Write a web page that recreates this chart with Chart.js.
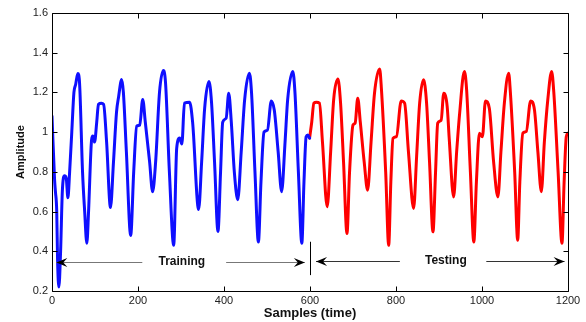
<!DOCTYPE html>
<html>
<head>
<meta charset="utf-8">
<script src="https://cdn.jsdelivr.net/npm/chart.js"></script>
<style>
  html, body { margin: 0; padding: 0; background: #fff; }
  #wrap { width: 586px; height: 322px; }
</style>
</head>
<body>
<div id="wrap"><canvas id="chart" width="586" height="322"></canvas></div>
<script>
// samples (x) and amplitude (y)
const trainX = [0, 6, 8, 11, 13, 16, 20, 24, 29, 33, 37, 41, 46, 51, 55, 60, 64, 71, 76, 81,
  85, 92, 95, 99, 104, 108, 115, 120, 127, 136, 143, 150, 155, 162, 166, 173, 183, 190, 197, 204,
  211, 217, 227, 234, 241, 250, 259, 264, 273, 283, 290, 297, 302, 308, 320, 327, 341, 348, 355, 365,
  371, 378, 386, 392, 397, 405, 411, 417, 424, 432, 440, 448, 459, 464, 472, 480, 486, 493, 501, 510,
  517, 526, 534, 542, 548, 560, 565, 573, 581, 586, 591, 595, 599];
const trainY = [1.08, 0.76, 0.70, 0.60, 0.35, 0.22, 0.40, 0.70, 0.78, 0.77, 0.67, 0.80, 1.00, 1.20, 1.24, 1.295, 1.25, 0.80, 0.60, 0.44,
  0.60, 0.96, 0.98, 0.95, 1.05, 1.14, 1.145, 1.14, 0.95, 0.62, 0.85, 1.10, 1.18, 1.265, 1.20, 0.90, 0.48, 0.80, 1.03, 1.035,
  1.165, 1.05, 0.85, 0.70, 0.85, 1.20, 1.31, 1.25, 0.80, 0.43, 0.92, 0.97, 0.94, 1.146, 1.15, 1.05, 0.61, 0.85, 1.12, 1.255,
  1.15, 0.85, 0.50, 0.80, 1.05, 1.07, 1.196, 1.05, 0.80, 0.66, 0.90, 1.163, 1.297, 1.20, 0.80, 0.447, 0.75, 1.00, 1.01, 1.157,
  1.11, 0.90, 0.70, 0.95, 1.163, 1.306, 1.20, 0.80, 0.44, 0.75, 0.977, 0.985, 0.97];

const testX = [599, 604, 609, 615, 622, 629, 640, 648, 655, 665, 671, 678, 686, 692, 700, 705, 711, 717, 726, 734,
  742, 750, 762, 766, 776, 783, 788, 793, 801, 812, 820, 829, 841, 848, 855, 864, 871, 878, 886, 892,
  897, 905, 911, 919, 924, 934, 941, 948, 959, 964, 973, 981, 987, 994, 1001, 1008, 1017, 1027, 1037, 1044,
  1052, 1062, 1066, 1076, 1083, 1088, 1095, 1103, 1113, 1122, 1130, 1138, 1145, 1153, 1162, 1167, 1177, 1186, 1191, 1196,
  1200];
const testY = [0.97, 1.05, 1.146, 1.15, 1.146, 0.95, 0.624, 0.90, 1.163, 1.267, 1.15, 0.85, 0.49, 0.80, 1.036, 1.045, 1.171, 1.05, 0.85, 0.708,
  0.95, 1.196, 1.318, 1.22, 0.80, 0.43, 0.75, 0.969, 0.977, 1.157, 1.146, 0.90, 0.616, 0.88, 1.146, 1.264, 1.15, 0.85, 0.498, 0.80,
  1.045, 1.06, 1.196, 1.13, 0.96, 0.674, 0.90, 1.095, 1.306, 1.22, 0.80, 0.447, 0.75, 0.995, 0.977, 1.157, 1.12, 0.85, 0.674, 0.90,
  1.146, 1.297, 1.20, 0.80, 0.456, 0.75, 0.995, 1.003, 1.157, 1.112, 0.90, 0.70, 0.95, 1.163, 1.306, 1.20, 0.80, 0.44, 0.75, 0.977,
  0.995];

const xTickLabels = ['0', '200', '400', '600', '800', '1000', '1200'];
const yTickLabels = ['0.2', '0.4', '0.6', '0.8', '1', '1.2', '1.4', '1.6'];

// annotation arrows in data units: [fromX, toX, y]
const trainingArrows = [[210, 10, 0.345], [405, 588, 0.345]];
const testingArrows = [[809, 614, 0.352], [1010, 1192, 0.352]];
const splitLine = [600, 0.28, 0.448];
const annotationLabels = [['Training', 302, 0.35], ['Testing', 916, 0.355]];

const toPoints = (xs, ys) => xs.map((x, i) => ({ x, y: ys[i] }));

function arrowHead(ctx, x, y, dir) {
  ctx.beginPath();
  ctx.moveTo(x, y);
  ctx.lineTo(x - dir * 11, y - 4.5);
  ctx.lineTo(x - dir * 7, y);
  ctx.lineTo(x - dir * 11, y + 4.5);
  ctx.closePath();
  ctx.fill();
}

const annotations = {
  id: 'annotations',
  afterDatasetsDraw(chart) {
    const { ctx, scales: { x, y } } = chart;
    ctx.save();
    const drawArrow = (arr, color) => {
      const x0 = x.getPixelForValue(arr[0]);
      const x1 = x.getPixelForValue(arr[1]);
      const py = Math.round(y.getPixelForValue(arr[2])) + 0.5;
      ctx.strokeStyle = color;
      ctx.lineWidth = 1;
      ctx.beginPath();
      ctx.moveTo(x0, py);
      ctx.lineTo(x1, py);
      ctx.stroke();
      ctx.fillStyle = '#000';
      arrowHead(ctx, x1, py, x1 > x0 ? 1 : -1);
    };
    trainingArrows.forEach((a) => drawArrow(a, '#777'));
    testingArrows.forEach((a) => drawArrow(a, '#333'));

    const sx = Math.round(x.getPixelForValue(splitLine[0])) + 0.5;
    ctx.strokeStyle = '#000';
    ctx.beginPath();
    ctx.moveTo(sx, y.getPixelForValue(splitLine[1]));
    ctx.lineTo(sx, y.getPixelForValue(splitLine[2]));
    ctx.stroke();

    ctx.fillStyle = '#111';
    ctx.font = 'bold 12px "Liberation Sans", Arial, sans-serif';
    ctx.textAlign = 'center';
    ctx.textBaseline = 'middle';
    annotationLabels.forEach(([text, vx, vy]) => {
      ctx.fillText(text, x.getPixelForValue(vx), y.getPixelForValue(vy));
    });
    ctx.restore();
  },
};

// MATLAB style box with inward ticks on all four sides
const frameTicks = {
  id: 'frameTicks',
  afterDraw(chart) {
    const { ctx, chartArea: a, scales: { x, y } } = chart;
    const L = Math.round(a.left) + 0.5;
    const R = Math.round(a.right) + 0.5;
    const T = Math.round(a.top) + 0.5;
    const B = Math.round(a.bottom) + 0.5;
    ctx.save();
    ctx.strokeStyle = '#000';
    ctx.lineWidth = 1;
    ctx.beginPath();
    ctx.rect(L, T, R - L, B - T);
    x.ticks.forEach((t) => {
      const px = Math.round(x.getPixelForValue(t.value)) + 0.5;
      ctx.moveTo(px, B); ctx.lineTo(px, B - 5);
      ctx.moveTo(px, T); ctx.lineTo(px, T + 5);
    });
    y.ticks.forEach((t) => {
      const py = Math.round(y.getPixelForValue(t.value)) + 0.5;
      ctx.moveTo(L, py); ctx.lineTo(L + 5, py);
      ctx.moveTo(R, py); ctx.lineTo(R - 5, py);
    });
    ctx.stroke();
    ctx.restore();
  },
};

const tickFont = { family: '"Liberation Sans", Arial, sans-serif', size: 11 };

const lineStyle = {
  borderWidth: 3,
  pointRadius: 0,
  cubicInterpolationMode: 'monotone',
  borderJoinStyle: 'round',
  borderCapStyle: 'round',
};

const chartConfig = {
  type: 'line',
  data: {
    datasets: [
      { ...lineStyle, data: toPoints(trainX, trainY), borderColor: '#0f0fff' },
      { ...lineStyle, data: toPoints(testX, testY), borderColor: '#ff0000' },
    ],
  },
  options: {
    responsive: false,
    animation: false,
    layout: { padding: { left: 0, top: 13, right: 18, bottom: 0 } },
    plugins: { legend: { display: false }, tooltip: { enabled: false } },
    scales: {
      x: {
        type: 'linear',
        min: 0,
        max: 1200,
        afterFit(scale) { scale.height = 31; },
        grid: { display: false, drawTicks: false },
        border: { display: false },
        ticks: {
          stepSize: 200,
          padding: 3,
          color: '#222',
          font: tickFont,
          maxRotation: 0,
          callback(value, index) { return xTickLabels[index]; },
        },
        title: {
          display: true,
          text: 'Samples (time)',
          color: '#111',
          font: { family: '"Liberation Sans", Arial, sans-serif', size: 13, weight: 'bold' },
          padding: { top: 0, bottom: 1 },
        },
      },
      y: {
        min: 0.2,
        max: 1.6,
        afterFit(scale) { scale.width = 52; },
        grid: { display: false, drawTicks: false },
        border: { display: false },
        ticks: {
          stepSize: 0.2,
          padding: 4,
          color: '#222',
          font: tickFont,
          callback(value, index) { return yTickLabels[index]; },
        },
        title: {
          display: true,
          text: 'Amplitude',
          color: '#111',
          font: { family: '"Liberation Sans", Arial, sans-serif', size: 11, weight: 'bold' },
          padding: { top: 14, bottom: 0 },
        },
      },
    },
  },
  plugins: [annotations, frameTicks],
};

new Chart(document.getElementById('chart'), chartConfig);
</script>
</body>
</html>
